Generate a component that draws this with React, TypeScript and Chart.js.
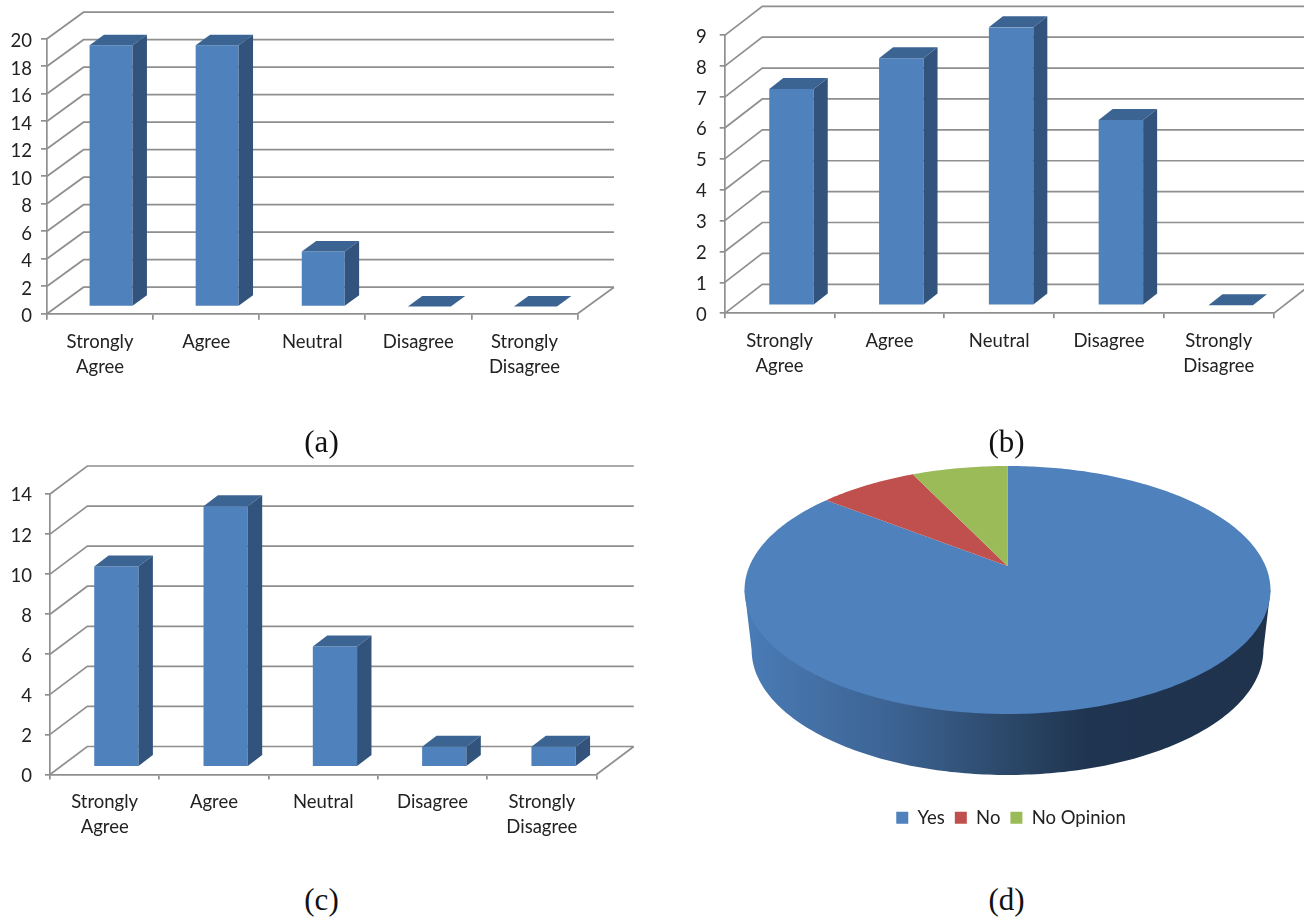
import React, { useEffect, useRef } from "react";
import { Chart, registerables } from "chart.js";

Chart.register(...registerables);

// Survey answers shown on the three column charts
const categories = [["Strongly", "Agree"], "Agree", "Neutral", "Disagree", ["Strongly", "Disagree"]];
const answersA = [19, 19, 4, 0, 0];
const answersB = [7, 8, 9, 6, 0];
const answersC = [10, 13, 6, 1, 1];

// Shares shown on the pie
const pieLabels = ["Yes", "No", "No Opinion"];
const pieValues = [85.6, 7.3, 7.1];

const FONT = "Lato, 'Open Sans', sans-serif";
const FONT_SIZE = 18.5;
const TEXT = "#222222";
const LINE = "#8f8f8f";
const FRONT = "#4f81bd";
const SIDE = "#31537c";
const TOP = "#3c6493";
const PIE_COLORS = ["#4f81bd", "#c0504d", "#9bbb59"];

type Panel = {
  left: number; top: number; width: number; height: number;
  area: { left: number; right: number; top: number; bottom: number };
  wall: [number, number];   // depth of the side wall and floor
  shift: [number, number];  // where the front of the columns sits on the floor
  bar: [number, number];    // depth of each column
  max: number; step: number; labelPad: number; tickLen: number; labelDrop: number;
};

const panelA: Panel = {
  left: 0, top: 0, width: 652, height: 430,
  area: { left: 47, right: 577.5, top: 38.7, bottom: 313.7 },
  wall: [36.5, -26.5], shift: [11, -7.2], bar: [14.4, -10.5],
  max: 20, step: 2, labelPad: 9, tickLen: 6, labelDrop: 2.5,
};
const panelB: Panel = {
  left: 652, top: 0, width: 652, height: 430,
  area: { left: 72.7, right: 621.7, top: 35.3, bottom: 313.3 },
  wall: [37.6, -29], shift: [11.9, -8], bar: [14, -11],
  max: 9, step: 1, labelPad: 13, tickLen: 5, labelDrop: 1.5,
};
const panelC: Panel = {
  left: 0, top: 450, width: 652, height: 417,
  area: { left: 50, right: 596.5, top: 44, bottom: 324.5 },
  wall: [37.3, -28], shift: [11.7, -7.7], bar: [14.4, -11],
  max: 14, step: 2, labelPad: 13, tickLen: 5, labelDrop: 1.5,
};

// Back wall, side wall and floor, then the depth faces of each column
function columns3d(panel: Panel) {
  return {
    id: "columns3d",
    beforeDatasetsDraw(chart: any) {
      const { ctx, scales } = chart;
      const y = scales.y;
      const [wx, wy] = panel.wall;
      const { left, right, bottom } = chart.chartArea;
      ctx.save();
      ctx.strokeStyle = LINE;
      ctx.lineWidth = 1.7;
      ctx.beginPath();
      for (const tick of y.ticks) {
        const py = y.getPixelForValue(tick.value);
        ctx.moveTo(left, py);
        ctx.lineTo(left + wx, py + wy);
        ctx.lineTo(right + wx, py + wy);
      }
      ctx.moveTo(right, bottom);
      ctx.lineTo(right + wx, bottom + wy);
      ctx.stroke();
      ctx.restore();
      ctx.save();
      ctx.translate(panel.shift[0], panel.shift[1]);
    },
    afterDatasetsDraw(chart: any) {
      const { ctx } = chart;
      const [dx, dy] = panel.bar;
      for (const bar of chart.getDatasetMeta(0).data) {
        const { x, y, base, width } = bar.getProps(["x", "y", "base", "width"], true);
        const l = x - width / 2;
        const r = x + width / 2;
        ctx.fillStyle = TOP;
        ctx.beginPath();
        ctx.moveTo(l, y);
        ctx.lineTo(l + dx, y + dy);
        ctx.lineTo(r + dx, y + dy);
        ctx.lineTo(r, y);
        ctx.closePath();
        ctx.fill();
        if (base > y) {
          ctx.fillStyle = SIDE;
          ctx.beginPath();
          ctx.moveTo(r, y);
          ctx.lineTo(r + dx, y + dy);
          ctx.lineTo(r + dx, base + dy);
          ctx.lineTo(r, base);
          ctx.closePath();
          ctx.fill();
        }
      }
      ctx.restore();
    },
  };
}

function BarPanel({ panel, values }: { panel: Panel; values: number[] }) {
  const ref = useRef<HTMLCanvasElement>(null);
  useEffect(() => {
    const { area, width, height } = panel;
    const chart = new Chart(ref.current!, {
      type: "bar",
      data: {
        labels: categories,
        datasets: [{ data: values, backgroundColor: FRONT, barPercentage: 0.405, categoryPercentage: 1 }],
      },
      options: {
        responsive: false,
        animation: false,
        events: [],
        layout: { padding: { top: area.top, right: width - area.right, left: 0, bottom: 0 } },
        plugins: { legend: { display: false }, tooltip: { enabled: false } },
        scales: {
          x: {
            offset: true,
            border: { color: LINE, width: 1.7 },
            grid: { offset: true, drawOnChartArea: false, color: LINE, lineWidth: 1.7, tickLength: panel.tickLen },
            ticks: {
              color: TEXT, padding: 10, maxRotation: 0, autoSkip: false,
              font: { family: FONT, size: FONT_SIZE, lineHeight: 1.35 },
            },
            afterFit(s: any) { s.height = height - area.bottom; },
          },
          y: {
            min: 0,
            max: panel.max,
            border: { color: LINE, width: 1.7 },
            grid: { drawOnChartArea: false, color: LINE, lineWidth: 1.7, tickLength: panel.tickLen },
            ticks: {
              stepSize: panel.step, color: TEXT, padding: panel.labelPad, labelOffset: panel.labelDrop,
              font: { family: FONT, size: FONT_SIZE },
            },
            afterFit(s: any) { s.width = area.left; },
          },
        },
      },
      plugins: [columns3d(panel)],
    } as any);
    return () => chart.destroy();
  }, []);
  return (
    <canvas
      ref={ref}
      width={panel.width}
      height={panel.height}
      style={{ position: "absolute", left: panel.left, top: panel.top, width: panel.width, height: panel.height }}
    />
  );
}

// Perspective view of the pie: a circle on the floor seen from above
const PIE = { left: 718, top: 450, width: 586, height: 387, cx: 289.5, cy: 116, A: 258, B: 119.35, k: -0.1935 };

function rim(angle: number, scaleX = 1, scaleY = 1, drop = 0) {
  const c = Math.cos(angle);
  const s = Math.sin(angle);
  const w = 1 + PIE.k * s;
  return [PIE.cx + (scaleX * PIE.A * c) / w, PIE.cy + drop + (scaleY * PIE.B * s) / w];
}

const pie3d = {
  id: "pie3d",
  beforeDatasetDraw(chart: any) {
    const { ctx } = chart;
    const widest = Math.asin(-PIE.k);
    // Outer wall of the disc
    const wall = ctx.createLinearGradient(PIE.cx - 263, 0, PIE.cx + 263, 0);
    wall.addColorStop(0, "#4a7cb6");
    wall.addColorStop(0.3, "#3b6190");
    wall.addColorStop(0.5, "#2c4869");
    wall.addColorStop(0.65, "#1f3450");
    wall.addColorStop(1, "#1f334d");
    ctx.fillStyle = wall;
    ctx.beginPath();
    const [x0, y0] = rim(Math.PI - widest);
    ctx.moveTo(x0, y0);
    for (let i = 0; i <= 180; i++) {
      const t = Math.PI - widest - ((Math.PI - 2 * widest) * i) / 180;
      const [x, y] = rim(t, 0.973, 1.008, 59.8);
      ctx.lineTo(x, y);
    }
    const [x1, y1] = rim(widest);
    ctx.lineTo(x1, y1);
    ctx.closePath();
    ctx.fill();
    // Top of the disc, one wedge per slice
    chart.getDatasetMeta(0).data.forEach((arc: any, i: number) => {
      const { startAngle, endAngle } = arc.getProps(["startAngle", "endAngle"], true);
      ctx.fillStyle = PIE_COLORS[i];
      ctx.beginPath();
      ctx.moveTo(PIE.cx, PIE.cy);
      const steps = Math.max(8, Math.ceil((endAngle - startAngle) * 60));
      for (let n = 0; n <= steps; n++) {
        const [x, y] = rim(startAngle + ((endAngle - startAngle) * n) / steps);
        ctx.lineTo(x, y);
      }
      ctx.closePath();
      ctx.fill();
    });
    return false;
  },
};

function PiePanel() {
  const ref = useRef<HTMLCanvasElement>(null);
  useEffect(() => {
    const chart = new Chart(ref.current!, {
      type: "pie",
      data: { labels: pieLabels, datasets: [{ data: pieValues, backgroundColor: PIE_COLORS, borderWidth: 0 }] },
      options: {
        responsive: false,
        animation: false,
        events: [],
        plugins: {
          tooltip: { enabled: false },
          legend: {
            position: "bottom",
            labels: {
              color: TEXT, boxWidth: 12, boxHeight: 12, padding: 10,
              font: { family: FONT, size: FONT_SIZE },
            },
          },
        },
      },
      plugins: [pie3d],
    } as any);
    return () => chart.destroy();
  }, []);
  return (
    <canvas
      ref={ref}
      width={PIE.width}
      height={PIE.height}
      style={{ position: "absolute", left: PIE.left, top: PIE.top, width: PIE.width, height: PIE.height }}
    />
  );
}

function Caption({ text, x, y }: { text: string; x: number; y: number }) {
  return (
    <div
      style={{
        position: "absolute", left: x - 40, top: y - 20, width: 80, height: 40, lineHeight: "40px",
        textAlign: "center", fontFamily: "'Liberation Serif', serif", fontSize: 31, color: "#111111",
      }}
    >
      {text}
    </div>
  );
}

export default function App() {
  return (
    <div style={{ position: "absolute", left: 0, top: 0, width: 1304, height: 917, background: "#ffffff", overflow: "hidden" }}>
      <BarPanel panel={panelA} values={answersA} />
      <BarPanel panel={panelB} values={answersB} />
      <BarPanel panel={panelC} values={answersC} />
      <PiePanel />
      <Caption text="(a)" x={321.5} y={442} />
      <Caption text="(b)" x={1006.5} y={442} />
      <Caption text="(c)" x={321.5} y={900} />
      <Caption text="(d)" x={1006.5} y={900} />
    </div>
  );
}
